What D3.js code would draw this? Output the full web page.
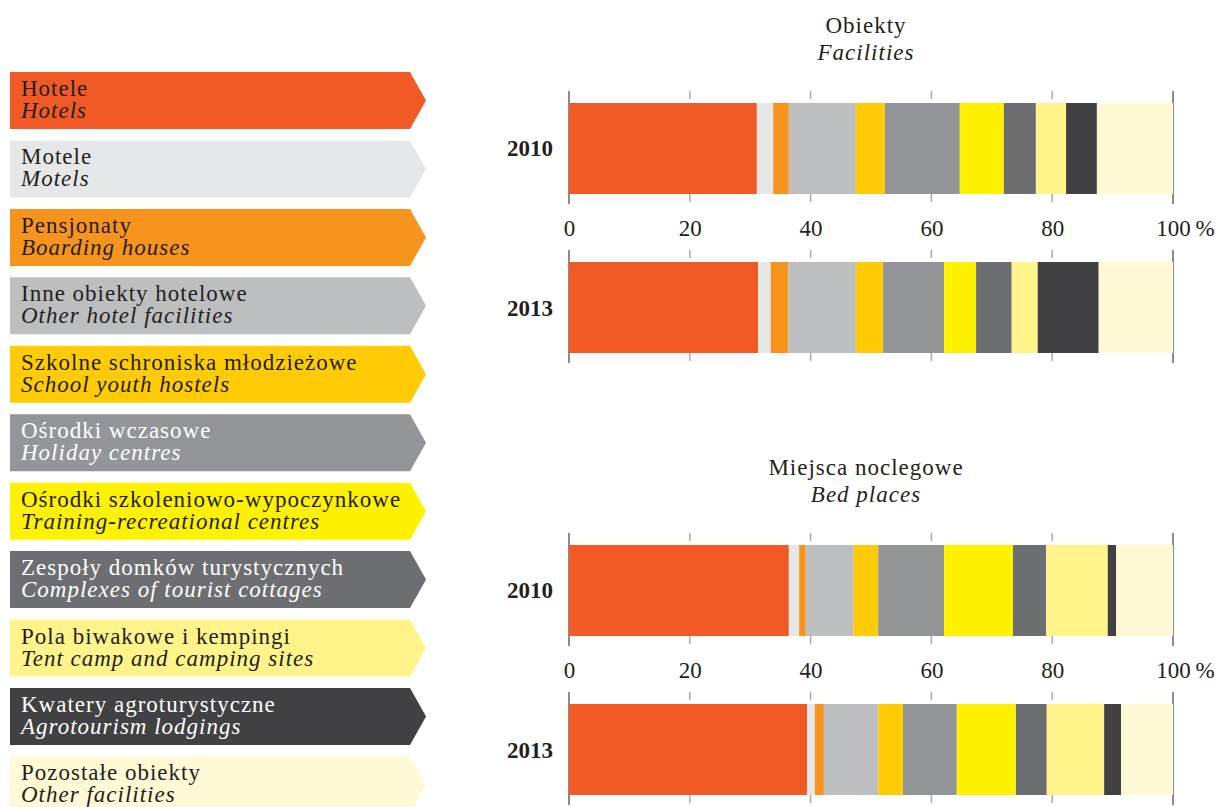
<!DOCTYPE html>
<html>
<head>
<meta charset="utf-8">
<script src="https://cdn.jsdelivr.net/npm/d3@7"></script>
<style>
  body { margin: 0; background: #fff; }
  svg text { font-family: "Liberation Serif", "DejaVu Serif", serif; fill: #231f20; }
</style>
</head>
<body>
<script>
// chart size
let width = 1218, height = 807;
const serif = '"Liberation Serif", "DejaVu Serif", serif';

// categories (Polish / English)
const labelsPl = ["Hotele", "Motele", "Pensjonaty", "Inne obiekty hotelowe",
  "Szkolne schroniska młodzieżowe", "Ośrodki wczasowe",
  "Ośrodki szkoleniowo-wypoczynkowe", "Zespoły domków turystycznych",
  "Pola biwakowe i kempingi", "Kwatery agroturystyczne", "Pozostałe obiekty"];
const labelsEn = ["Hotels", "Motels", "Boarding houses", "Other hotel facilities",
  "School youth hostels", "Holiday centres", "Training-recreational centres",
  "Complexes of tourist cottages", "Tent camp and camping sites",
  "Agrotourism lodgings", "Other facilities"];
const colors = ["#f15a24", "#e6e7e8", "#f7941e", "#bcbec0", "#ffcb05", "#939598",
  "#fff200", "#6d6e71", "#fff48a", "#414042", "#fffad5"];
const whiteText = [false, false, false, false, false, true, false, true, false, true, false];

const years = ["2010", "2013"];

// shares in %
const facilities2010 = [31.1, 2.7, 2.6, 11.1, 4.8, 12.4, 7.3, 5.3, 5.0, 5.1, 12.6];
const facilities2013 = [31.3, 2.1, 2.9, 11.2, 4.5, 10.1, 5.3, 5.9, 4.3, 10.1, 12.3];
const beds2010 = [36.4, 1.7, 1.1, 7.9, 4.1, 10.9, 11.4, 5.5, 10.2, 1.4, 9.4];
const beds2013 = [39.4, 1.3, 1.5, 9.0, 4.1, 8.9, 9.8, 5.1, 9.5, 2.8, 8.6];

const axisTicks = [0, 20, 40, 60, 80, 100];

let svg = d3.select('body')
  .append('svg')
  .attr('width', width)
  .attr('height', height)
  .style('font-family', serif);

// ---- legend (arrow boxes on the left) ----
const step = 68.44;
const legendY = d3.scaleBand()
  .domain(labelsPl)
  .range([72, 72 + step * (11 - 0.167)])
  .paddingInner(0.167)
  .paddingOuter(0)
  .align(0);

const legend = svg.append("g");
labelsPl.forEach(function(name, i) {
  const y0 = legendY(name), h = legendY.bandwidth();
  const g = legend.append("g").attr("transform", `translate(0,${y0})`);
  g.append("path")
    .attr("d", `M10,0 H410 L426,${h / 2} L410,${h} H10 Z`)
    .attr("fill", colors[i]);
  g.append("text")
    .attr("x", 21).attr("y", 24)
    .style("font-family", serif)
    .style("font-size", "23px")
    .style("letter-spacing", "1px")
    .style("fill", whiteText[i] ? "#fff" : "#231f20")
    .text(name);
  g.append("text")
    .attr("x", 21).attr("y", 46)
    .style("font-family", serif)
    .style("font-size", "23px")
    .style("letter-spacing", "1px")
    .style("font-style", "italic")
    .style("fill", whiteText[i] ? "#fff" : "#231f20")
    .text(labelsEn[i]);
});

// ---- bar panels ----
const xScale = d3.scaleLinear()
  .domain([0, 100])
  .range([569, 1173]);

function drawPanel(top, titlePl, titleEn, series) {
  const yScale = d3.scaleBand()
    .domain(years)
    .range([top, top + 250])
    .paddingInner(0.4277)
    .paddingOuter(0);
  const bw = yScale.bandwidth();

  const g = svg.append("g");

  g.append("text")
    .attr("x", 866).attr("y", top - 70)
    .style("text-anchor", "middle")
    .style("font-family", serif)
    .style("font-size", "23px")
    .style("letter-spacing", "1px")
    .text(titlePl);
  g.append("text")
    .attr("x", 866).attr("y", top - 43)
    .style("text-anchor", "middle")
    .style("font-family", serif)
    .style("font-size", "23px")
    .style("letter-spacing", "1px")
    .style("font-style", "italic")
    .text(titleEn);

  years.forEach(function(yr, k) {
    const y0 = yScale(yr);
    const vals = series[k];
    const ends = d3.cumsum(vals);
    const segs = vals.map((v, i) => ({ start: ends[i] - v, end: ends[i], i: i }));

    // tick marks above the bar; 0 and 100 run the whole bar height
    g.selectAll(null)
      .data(axisTicks)
      .enter()
      .append("line")
      .attr("x1", d => xScale(d)).attr("x2", d => xScale(d))
      .attr("y1", y0 - 12)
      .attr("y2", d => (d === 0 || d === 100) ? y0 + bw + 10 : y0 - 4)
      .attr("stroke", d => (d === 0 || d === 100) ? "#8a8c8e" : "#a7a9ac")
      .attr("stroke-width", d => (d === 0 || d === 100) ? 2 : 1.5);
    // tick marks below the bar
    g.selectAll(null)
      .data(axisTicks.filter(d => d !== 0 && d !== 100))
      .enter()
      .append("line")
      .attr("x1", d => xScale(d)).attr("x2", d => xScale(d))
      .attr("y1", y0 + bw).attr("y2", y0 + bw + 8)
      .attr("stroke", "#a7a9ac")
      .attr("stroke-width", 1.5);

    g.selectAll(null)
      .data(segs)
      .enter()
      .append("rect")
      .attr("x", d => xScale(d.start))
      .attr("y", y0)
      .attr("width", d => xScale(Math.min(d.end, 100)) - xScale(d.start))
      .attr("height", bw)
      .attr("fill", d => colors[d.i]);

    g.append("text")
      .attr("x", 553).attr("y", y0 + bw / 2 + 8)
      .style("text-anchor", "end")
      .style("font-family", serif)
      .style("font-size", "23px")
      .style("font-weight", "bold")
      .text(yr);
  });

  // axis labels between the two bars
  const axis = g.append("g")
    .attr("transform", `translate(0,${top + 133})`)
    .call(d3.axisBottom(xScale).tickValues(axisTicks).tickSize(0).tickPadding(0));
  axis.attr("font-family", null).attr("font-size", null);
  axis.select(".domain").remove();
  axis.selectAll("text")
    .attr("y", 0).attr("dy", null)
    .style("font-family", serif)
    .style("font-size", "23px")
    .style("fill", "#231f20");
  axis.selectAll(".tick")
    .filter(d => d === 100)
    .append("text")
    .attr("x", 22)
    .style("font-family", serif)
    .style("font-size", "23px")
    .style("text-anchor", "start")
    .text("%");
}

drawPanel(103, "Obiekty", "Facilities", [facilities2010, facilities2013]);
drawPanel(545, "Miejsca noclegowe", "Bed places", [beds2010, beds2013]);
</script>
</body>
</html>
